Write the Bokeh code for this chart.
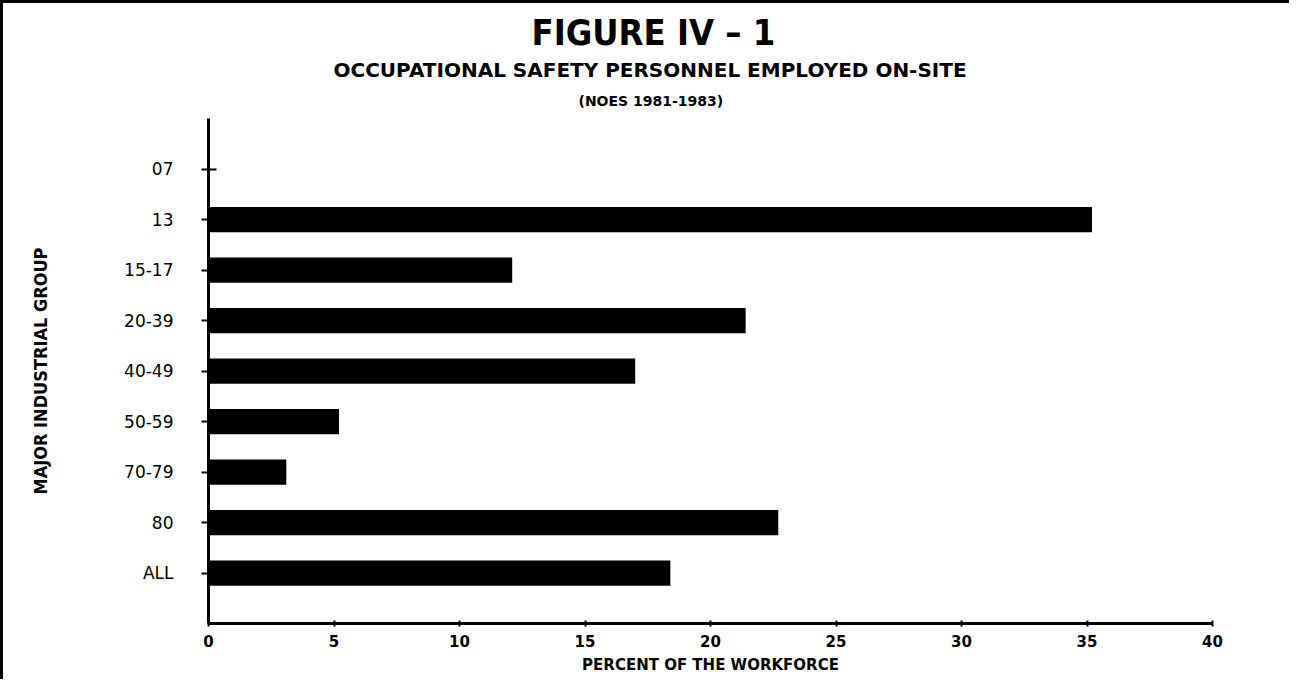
from bokeh.plotting import figure
from bokeh.models import FixedTicker, Title
from bokeh.embed import file_html
from bokeh.resources import INLINE

# ---- data ----
groups = ["07", "13", "15-17", "20-39", "40-49", "50-59", "70-79", "80", "ALL"]
percent = [0.0, 35.2, 12.1, 21.4, 17.0, 5.2, 3.1, 22.7, 18.4]
x_ticks = [0, 5, 10, 15, 20, 25, 30, 35, 40]

title_main = "FIGURE IV \u2013 1"
title_sub = "OCCUPATIONAL SAFETY PERSONNEL EMPLOYED ON-SITE"
title_src = "(NOES 1981-1983)"
x_label = "PERCENT OF THE WORKFORCE"
y_label = "MAJOR INDUSTRIAL GROUP"

n = len(groups)
ypos = [n - i for i in range(n)]  # first group at the top

p = figure(
    width=1289, height=679,
    x_range=(0, 40), y_range=(0, n + 1),
    output_backend="svg", toolbar_location=None, title=None,
    min_border_left=205, min_border_right=80,
    min_border_top=115, min_border_bottom=59,
    styles={"border-left": "3px solid black", "border-top": "3px solid black"},
)

p.hbar(y=ypos, right=percent, left=0, height=0.5,
       fill_color="black", line_color=None)

# titles (added innermost first); left-aligned with offsets so they centre on the page
p.add_layout(Title(text=title_src, align="left", offset=370, text_font="DejaVu Sans",
                   text_font_style="bold", text_font_size="14px",
                   text_color="black", standoff=19), "above")
p.add_layout(Title(text=title_sub, align="left", offset=125, text_font="DejaVu Sans",
                   text_font_style="bold", text_font_size="20px",
                   text_color="black", standoff=0), "above")
p.add_layout(Title(text=title_main, align="left", offset=323,
                   text_font="DejaVu Sans Condensed",
                   text_font_style="bold", text_font_size="36px",
                   text_color="black", standoff=6), "above")

# axes
p.xgrid.visible = False
p.ygrid.visible = False
p.outline_line_color = None

xa = p.xaxis[0]
xa.ticker = FixedTicker(ticks=x_ticks)
xa.minor_tick_line_color = None
xa.axis_line_width = 3
xa.major_tick_line_width = 2
xa.major_tick_in = 3
xa.major_tick_out = 3
xa.major_label_standoff = 8
xa.major_label_text_font = "DejaVu Sans"
xa.major_label_text_font_style = "bold"
xa.major_label_text_font_size = "15px"
xa.major_label_text_color = "black"
xa.axis_label = x_label
xa.axis_label_text_font = "DejaVu Sans"
xa.axis_label_text_font_style = "bold"
xa.axis_label_text_font_size = "15px"
xa.axis_label_text_color = "black"
xa.axis_label_standoff = 6

ya = p.yaxis[0]
ya.ticker = FixedTicker(ticks=ypos)
ya.major_label_overrides = {y: g for y, g in zip(ypos, groups)}
ya.minor_tick_line_color = None
ya.axis_line_width = 3
ya.major_tick_line_width = 2
ya.major_tick_in = 8
ya.major_tick_out = 7
ya.major_label_standoff = 28
ya.major_label_text_font = "DejaVu Sans"
ya.major_label_text_font_size = "17px"
ya.major_label_text_color = "black"
ya.axis_label = y_label
ya.axis_label_text_font = "DejaVu Sans Condensed"
ya.axis_label_text_font_style = "bold"
ya.axis_label_text_font_size = "18px"
ya.axis_label_text_color = "black"
ya.axis_label_standoff = 70

open("out.html", "w").write(file_html(p, INLINE))
